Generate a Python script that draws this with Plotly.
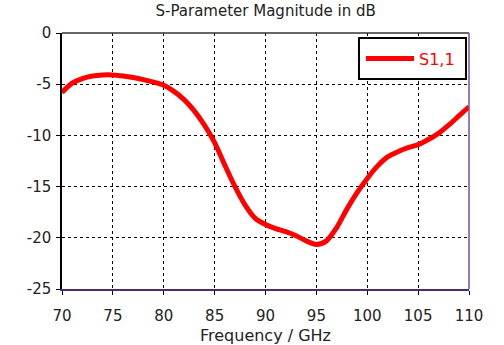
import plotly.graph_objects as go

# S11 magnitude sweep (frequency in GHz, magnitude in dB)
freq_ghz = [70, 71, 72, 73, 74, 75, 76, 77, 78, 79, 80, 81, 82, 83, 84, 85, 86, 87, 88, 89,
            90, 91, 92, 93, 94, 95, 96, 97, 98, 99, 100, 101, 102, 103, 104, 105,
            106, 107, 108, 109, 110]
s11_db = [-5.8, -4.9, -4.45, -4.2, -4.1, -4.1, -4.2, -4.35, -4.55, -4.8, -5.1, -5.7, -6.5,
          -7.6, -9.0, -10.7, -12.9, -15.0, -16.8, -18.1, -18.7, -19.1, -19.4, -19.8, -20.3,
          -20.65, -20.3, -19.0, -17.2, -15.6, -14.2, -13.0, -12.1, -11.6, -11.2,
          -10.9, -10.4, -9.8, -9.0, -8.1, -7.2]

x_ticks = [70, 75, 80, 85, 90, 95, 100, 105, 110]
y_ticks = [0, -5, -10, -15, -20, -25]

FONT = "DejaVu Sans"
TEXT = "#222222"

fig = go.Figure()
fig.add_trace(go.Scatter(
    x=freq_ghz, y=s11_db, mode="lines", name="S1,1",
    line=dict(color="#ff0000", width=5, shape="spline", smoothing=0.8),
))

axis_common = dict(
    showgrid=True, gridcolor="#000000", gridwidth=1, griddash="3px,3px",
    ticks="outside", ticklen=4, tickwidth=1, tickcolor="#000000",
    showline=True, linewidth=1.5, zeroline=False, automargin=False,
    tickfont=dict(family=FONT, size=15, color=TEXT),
)

fig.update_xaxes(
    range=[70, 110], tickvals=x_ticks, ticktext=[str(v) for v in x_ticks],
    linecolor="#4b2d6e", ticklabelstandoff=8,
    title=dict(text="Frequency / GHz", font=dict(family=FONT, size=16, color=TEXT), standoff=6),
    **axis_common,
)
fig.update_yaxes(
    range=[-25, 0], tickvals=y_ticks, ticktext=[str(v) for v in y_ticks],
    linecolor="#000000", ticklabelstandoff=2,
    **axis_common,
)

# plot frame: dark top edge, purple right edge
fig.add_shape(type="line", xref="paper", yref="paper", x0=0, x1=1, y0=1, y1=1,
              line=dict(color="#333333", width=1.5))
fig.add_shape(type="line", xref="paper", yref="paper", x0=1, x1=1, y0=0, y1=1,
              line=dict(color="#7a4f9a", width=1.5))
# legend frame
fig.add_shape(type="rect", xref="paper", yref="paper", x0=0.7297, x1=0.9926,
              y0=0.8203, y1=0.9805, layer="above",
              fillcolor="#ffffff", line=dict(color="#000000", width=2))

fig.update_layout(
    width=504, height=345,
    margin=dict(l=62, r=35, t=33, b=56),
    paper_bgcolor="#ffffff", plot_bgcolor="#ffffff",
    title=dict(text="S-Parameter Magnitude in dB", x=0.527, xanchor="center",
               y=0.97, yanchor="middle",
               font=dict(family=FONT, size=15, color=TEXT)),
    showlegend=True,
    legend=dict(
        x=0.7346, xanchor="left", y=0.9004, yanchor="middle",
        bgcolor="rgba(0,0,0,0)", borderwidth=0,
        font=dict(family=FONT, size=16, color="#ff0000"),
        itemwidth=48,
    ),
)

fig.write_html("out.html")
